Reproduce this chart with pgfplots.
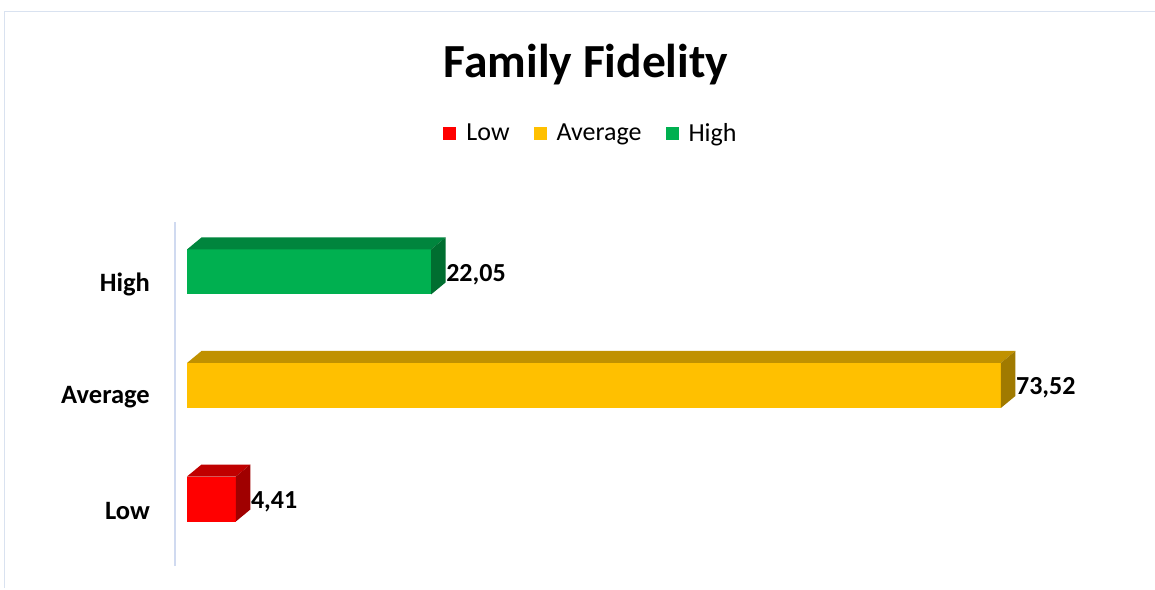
\documentclass[border=0pt]{standalone}
\usepackage{pgfplots}
\pgfplotsset{compat=1.18}
\usepackage{fontspec}
\setmainfont{Carlito}
\definecolor{cRed}{HTML}{FF0000}
\definecolor{cRedTop}{HTML}{C00000}
\definecolor{cRedSide}{HTML}{A00000}
\definecolor{cYel}{HTML}{FFC000}
\definecolor{cYelTop}{HTML}{C09100}
\definecolor{cYelSide}{HTML}{A07A00}
\definecolor{cGrn}{HTML}{00B050}
\definecolor{cGrnTop}{HTML}{00853D}
\definecolor{cGrnSide}{HTML}{006E30}
\definecolor{axblue}{HTML}{D0DAF0}
\definecolor{frame}{HTML}{D9E2F0}
\begin{document}
\begin{tikzpicture}[x=1pt,y=1pt]
\useasboundingbox (0,0) rectangle (1155,589);
\draw[frame, line width=1pt] (4.5,1) -- (4.5,577.5) -- (1156,577.5);
\node[font=\fontsize{47.5}{52}\selectfont\bfseries, anchor=base, inner sep=0pt] at (586,511.4) {Family Fidelity};
\begin{axis}[
  at={(175pt,23pt)}, anchor=south west,
  scale only axis, width=897.6pt, height=344pt,
  xmin=-1.084, xmax=80, ymin=-0.59, ymax=2.44,
  hide x axis,
  axis y line*=left,
  y axis line style={axblue, line width=1.5pt},
  ytick={0,1,2}, yticklabels={Low,Average,High},
  major tick length=0pt,
  yticklabel style={font=\fontsize{26.5}{30}\selectfont\bfseries, inner sep=0pt, anchor=east, xshift=-25pt, yshift=-12pt},
  /pgf/number format/.cd, fixed, fixed zerofill, precision=2, use comma, assume math mode=true,
  /pgfplots/.cd,
  point meta=x,
  nodes near coords,
  nodes near coords style={font=\fontsize{26}{30}\selectfont\bfseries, anchor=base west, inner sep=0pt, xshift=15pt, yshift=-9.5pt, text=black},
  legend columns=3,
  legend style={at={(0.4635,1.2587)}, anchor=center, draw=none, fill=none,
    font=\fontsize{26}{30}\selectfont, inner sep=0pt,
    /tikz/every even column/.append style={column sep=22pt},
    /tikz/every odd column/.append style={column sep=8pt}},
  legend image code/.code={\fill[#1] (0pt,-6.5pt) rectangle (13pt,6.5pt);},
  clip=false,
]
\addplot[xbar, bar width=45pt, bar shift=0pt, fill=cRed, draw=none] coordinates {(4.41,0)};
\addlegendentry{Low}
\addplot[xbar, bar width=45pt, bar shift=0pt, fill=cYel, draw=none] coordinates {(73.52,1)};
\addlegendentry{Average}
\addplot[xbar, bar width=45pt, bar shift=0pt, fill=cGrn, draw=none] coordinates {(22.05,2)};
\addlegendentry{High}
% 3D faces: top and side
\addplot[fill=cGrnTop, draw=none, forget plot, nodes near coords={}] coordinates {(0,2.1982) (22.05,2.1982) (23.36,2.3039) (1.31,2.3039)} -- cycle;
\addplot[fill=cGrnSide, draw=none, forget plot, nodes near coords={}] coordinates {(22.05,1.8018) (22.05,2.1982) (23.36,2.3039) (23.36,1.9075)} -- cycle;
\addplot[fill=cYelTop, draw=none, forget plot, nodes near coords={}] coordinates {(0,1.1982) (73.52,1.1982) (74.83,1.3039) (1.31,1.3039)} -- cycle;
\addplot[fill=cYelSide, draw=none, forget plot, nodes near coords={}] coordinates {(73.52,0.8018) (73.52,1.1982) (74.83,1.3039) (74.83,0.9075)} -- cycle;
\addplot[fill=cRedTop, draw=none, forget plot, nodes near coords={}] coordinates {(0,0.1982) (4.41,0.1982) (5.72,0.3039) (1.31,0.3039)} -- cycle;
\addplot[fill=cRedSide, draw=none, forget plot, nodes near coords={}] coordinates {(4.41,-0.1982) (4.41,0.1982) (5.72,0.3039) (5.72,-0.0925)} -- cycle;
\end{axis}
\end{tikzpicture}
\end{document}
